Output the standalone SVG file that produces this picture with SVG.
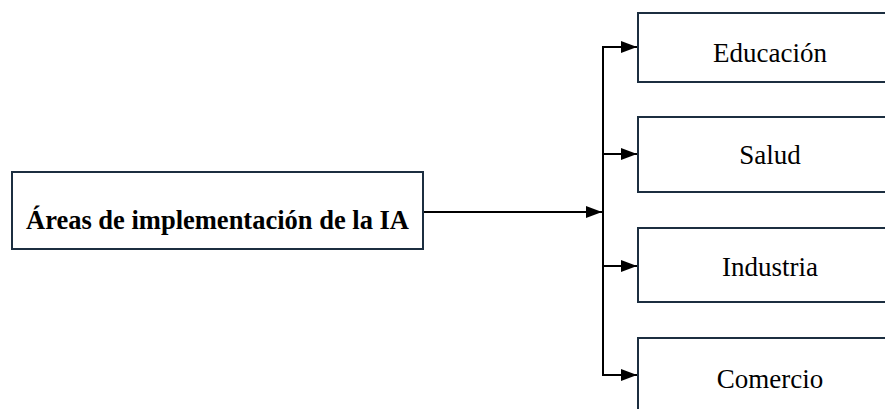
<svg xmlns="http://www.w3.org/2000/svg" width="885" height="409" viewBox="0 0 885 409">
<defs>
<style>
.box{fill:#fff;stroke:#1c2e40;stroke-width:2}
.t{font-family:"Liberation Serif","Times New Roman",serif;font-size:27px;fill:#000;text-anchor:middle}
.b{font-weight:bold;font-size:26.5px}
.c{fill:none;stroke:#000;stroke-width:2}
</style>
<marker id="ah" viewBox="0 0 16 12" refX="16" refY="6" markerWidth="8" markerHeight="6" markerUnits="strokeWidth" orient="auto">
<path d="M0,0L16,6L0,12z" fill="#000"/>
</marker>
</defs>
<rect width="885" height="409" fill="#fff"/>
<g id="connectors">
<line class="c" x1="423" y1="212" x2="602" y2="212" marker-end="url(#ah)"/>
<line class="c" x1="603" y1="46" x2="603" y2="376"/>
<line class="c" x1="602" y1="47" x2="637" y2="47" marker-end="url(#ah)"/>
<line class="c" x1="602" y1="154" x2="637" y2="154" marker-end="url(#ah)"/>
<line class="c" x1="602" y1="266" x2="637" y2="266" marker-end="url(#ah)"/>
<line class="c" x1="602" y1="375" x2="637" y2="375" marker-end="url(#ah)"/>
</g>
<g id="main">
<rect class="box" x="12" y="172" width="411" height="77"/>
<text class="t b" x="217.5" y="229">Áreas de implementación de la IA</text>
</g>
<g id="educacion">
<rect class="box" x="638" y="13" width="262" height="69"/>
<text class="t" x="770" y="62">Educación</text>
</g>
<g id="salud">
<rect class="box" x="638" y="117" width="262" height="75"/>
<text class="t" x="770" y="164">Salud</text>
</g>
<g id="industria">
<rect class="box" x="638" y="228" width="262" height="74"/>
<text class="t" x="770" y="276">Industria</text>
</g>
<g id="comercio">
<rect class="box" x="638" y="338" width="262" height="90"/>
<text class="t" x="770" y="388">Comercio</text>
</g>
</svg>
